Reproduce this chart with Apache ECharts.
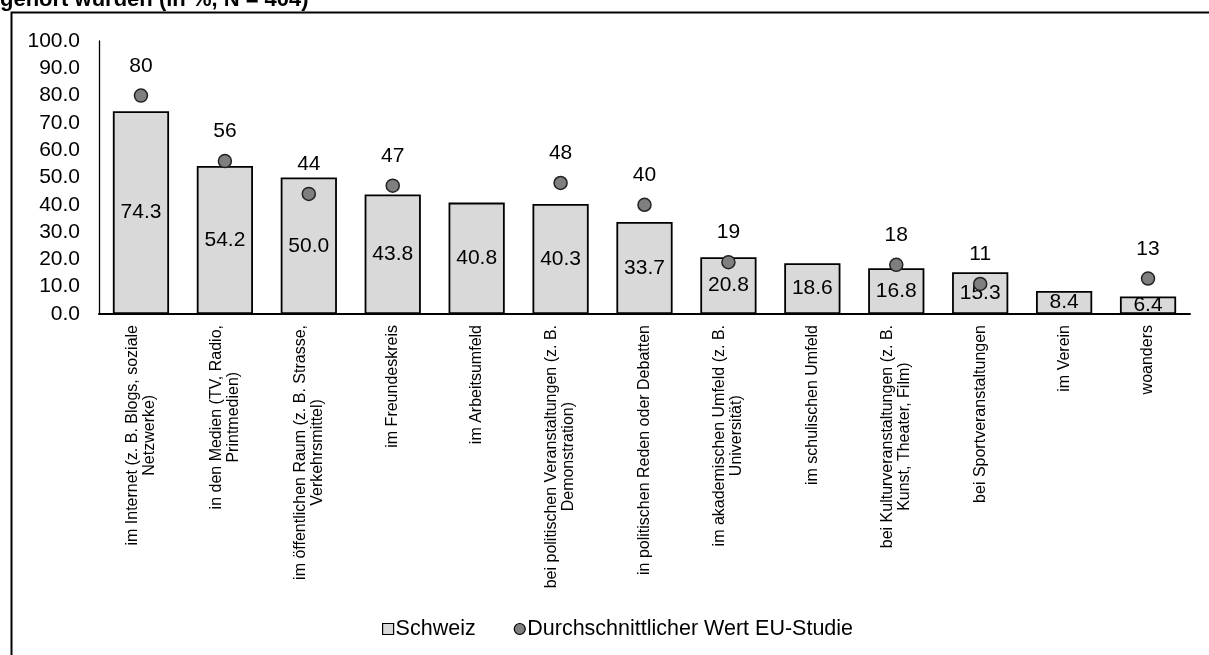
<!DOCTYPE html>
<html>
<head>
<meta charset="utf-8">
<script src="https://cdn.jsdelivr.net/npm/echarts@6/dist/echarts.min.js"></script>
<style>
  html, body { margin: 0; padding: 0; background: #fff; }
  #chart { width: 1209px; height: 655px; }
</style>
</head>
<body>
<div id="chart"></div>
<script>
// data
const categories = [
  'im Internet (z. B. Blogs, soziale\nNetzwerke)',
  'in den Medien (TV, Radio,\nPrintmedien)',
  'im öffentlichen Raum (z. B. Strasse,\nVerkehrsmittel)',
  'im Freundeskreis',
  'im Arbeitsumfeld',
  'bei politischen Veranstaltungen (z. B.\nDemonstration)',
  'in politischen Reden oder Debatten',
  'im akademischen Umfeld (z. B.\nUniversität)',
  'im schulischen Umfeld',
  'bei Kulturveranstaltungen (z. B.\nKunst, Theater, Film)',
  'bei Sportveranstaltungen',
  'im Verein',
  'woanders'
];
const schweiz = [74.3, 54.2, 50.0, 43.8, 40.8, 40.3, 33.7, 20.8, 18.6, 16.8, 15.3, 8.4, 6.4];
const euStudie = [80, 56, 44, 47, null, 48, 40, 19, null, 18, 11, null, 13];

const FONT = '"Liberation Sans", Arial, sans-serif';

const chart = echarts.init(document.getElementById('chart'), null, { renderer: 'canvas' });

const option = {
  animation: false,
  textStyle: { fontFamily: FONT, color: '#000' },
  title: {
    text: 'gehört wurden (in %, N = 404)',
    left: 0,
    top: -11,
    padding: 0,
    textStyle: { fontFamily: FONT, fontSize: 22, fontWeight: 'bold', color: '#000' }
  },
  // outer frame of the original figure (cut at right and bottom)
  graphic: [{
    type: 'rect',
    left: 9,
    top: 10,
    shape: { width: 1400, height: 800 },
    style: { fill: 'none', stroke: '#000', lineWidth: 2 },
    silent: true
  }],
  legend: {
    left: 382,
    top: 618,
    padding: 0,
    itemWidth: 11,
    itemHeight: 11,
    itemGap: 38,
    textStyle: { fontFamily: FONT, fontSize: 21.5, color: '#000', padding: [0, 0, 0, -3] },
    data: [
      { name: 'Schweiz', icon: 'rect', itemStyle: { color: '#d9d9d9', borderColor: '#000', borderWidth: 1.2 } },
      { name: 'Durchschnittlicher Wert EU-Studie', icon: 'circle', itemStyle: { color: '#7f7f7f', borderColor: '#000', borderWidth: 1.2 } }
    ]
  },
  grid: { left: 99, right: 19, top: 41, bottom: 341, containLabel: false },
  xAxis: {
    type: 'category',
    data: categories,
    axisLine: { lineStyle: { color: '#000', width: 2 } },
    axisTick: { show: false },
    axisLabel: {
      interval: 0,
      rotate: 90,
      margin: 11,
      formatter: v => v.split('\n').map(l => '{c|' + l + '}').join('\n'),
      rich: {
        c: { align: 'center', fontFamily: FONT, fontSize: 16, lineHeight: 17, color: '#000' }
      }
    }
  },
  yAxis: {
    type: 'value',
    min: 0,
    max: 100,
    interval: 10,
    axisLine: { show: true, lineStyle: { color: '#000', width: 1.3 } },
    axisTick: { show: false },
    splitLine: { show: false },
    axisLabel: {
      margin: 19,
      fontFamily: FONT,
      fontSize: 21,
      color: '#000',
      formatter: v => v.toFixed(1)
    }
  },
  series: [
    {
      name: 'Schweiz',
      type: 'bar',
      data: schweiz,
      barWidth: '67%',
      itemStyle: { color: '#d9d9d9', borderColor: '#000', borderWidth: 1.8 },
      label: {
        show: true,
        position: 'inside',
        fontFamily: FONT,
        fontSize: 21,
        color: '#000',
        formatter: p => p.value.toFixed(1)
      },
      z: 2
    },
    {
      name: 'Durchschnittlicher Wert EU-Studie',
      type: 'scatter',
      data: euStudie,
      symbol: 'circle',
      symbolSize: 13,
      itemStyle: { color: '#7f7f7f', borderColor: '#222', borderWidth: 1.5, opacity: 1 },
      label: {
        show: true,
        position: 'top',
        distance: 12,
        fontFamily: FONT,
        fontSize: 21,
        color: '#000'
      },
      z: 3
    }
  ]
};

chart.setOption(option);
</script>
</body>
</html>
